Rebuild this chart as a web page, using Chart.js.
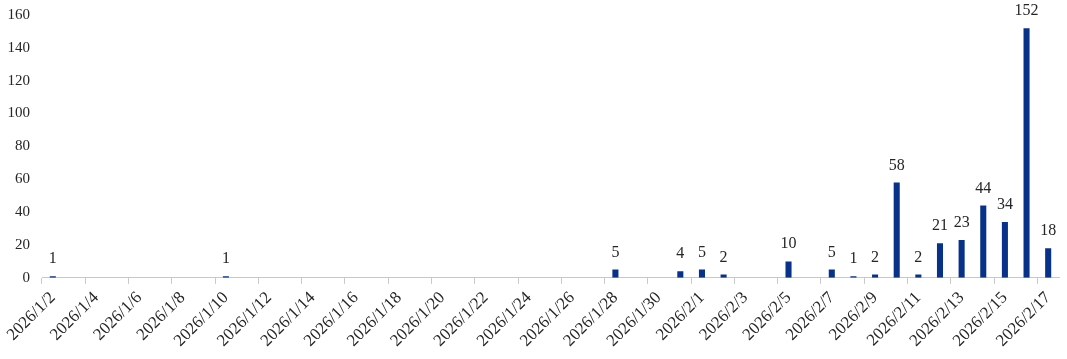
<!DOCTYPE html>
<html>
<head>
<meta charset="utf-8">
<script src="https://cdn.jsdelivr.net/npm/chart.js@4/dist/chart.umd.min.js"></script>
<style>
  html, body { margin: 0; padding: 0; background: #fff; }
  #wrap { width: 1067px; height: 359px; }
</style>
</head>
<body>
<div id="wrap"><canvas id="myBarChart"></canvas></div>
<script>
var dates = [
    '2026/1/2', '2026/1/3', '2026/1/4', '2026/1/5', '2026/1/6', '2026/1/7', '2026/1/8', '2026/1/9',
    '2026/1/10', '2026/1/11', '2026/1/12', '2026/1/13', '2026/1/14', '2026/1/15', '2026/1/16', '2026/1/17',
    '2026/1/18', '2026/1/19', '2026/1/20', '2026/1/21', '2026/1/22', '2026/1/23', '2026/1/24', '2026/1/25',
    '2026/1/26', '2026/1/27', '2026/1/28', '2026/1/29', '2026/1/30', '2026/1/31',
    '2026/2/1', '2026/2/2', '2026/2/3', '2026/2/4', '2026/2/5', '2026/2/6', '2026/2/7', '2026/2/8',
    '2026/2/9', '2026/2/10', '2026/2/11', '2026/2/12', '2026/2/13', '2026/2/14', '2026/2/15', '2026/2/16',
    '2026/2/17'
];
var counts = [
    1, 0, 0, 0, 0, 0, 0, 0,
    1, 0, 0, 0, 0, 0, 0, 0,
    0, 0, 0, 0, 0, 0, 0, 0,
    0, 0, 5, 0, 0, 4,
    5, 2, 0, 0, 10, 0, 5, 1,
    2, 58, 2, 21, 23, 44, 34, 152,
    18
];
var yTicks = [0, 20, 40, 60, 80, 100, 120, 140, 160];

var barColor = '#08318a';
var textColor = '#262626';
var serif = "'Liberation Serif', 'DejaVu Serif', serif";

// value labels over the bars (no datalabels plugin offline)
var valueLabels = {
    id: 'valueLabels',
    afterDatasetsDraw: function (chart) {
        var c = chart.ctx;
        var meta = chart.getDatasetMeta(0);
        c.save();
        c.font = '16px ' + serif;
        c.fillStyle = textColor;
        c.textAlign = 'center';
        c.textBaseline = 'alphabetic';
        meta.data.forEach(function (bar, i) {
            var v = counts[i];
            if (!v) return;
            c.fillText(String(v), bar.x, bar.y - 13);
        });
        c.restore();
    }
};

var ctx = document.getElementById('myBarChart').getContext('2d');
var myBarChart = new Chart(ctx, {
    type: 'bar',
    data: {
        labels: dates,
        datasets: [{
            data: counts,
            backgroundColor: barColor,
            barPercentage: 0.28,
            categoryPercentage: 1
        }]
    },
    options: {
        responsive: true,
        maintainAspectRatio: false,
        animation: false,
        layout: { padding: { left: 7, right: 8, top: 0, bottom: 4 } },
        plugins: {
            legend: { display: false },
            tooltip: { enabled: false }
        },
        scales: {
            x: {
                border: { display: true, color: '#c8c8c8', width: 1 },
                grid: {
                    offset: true,
                    drawOnChartArea: false,
                    tickLength: 6,
                    color: function (c) { return c.index % 2 === 0 ? '#c8c8c8' : 'rgba(0,0,0,0)'; }
                },
                ticks: {
                    autoSkip: false,
                    minRotation: 45,
                    maxRotation: 45,
                    padding: 4,
                    color: textColor,
                    font: { family: serif, size: 17 },
                    callback: function (val, i) { return i % 2 === 0 ? dates[i] : ''; }
                }
            },
            y: {
                min: yTicks[0],
                max: yTicks[yTicks.length - 1],
                border: { display: false },
                grid: { display: false, drawTicks: false },
                afterBuildTicks: function (axis) {
                    axis.ticks = yTicks.map(function (v) { return { value: v }; });
                },
                // chart.js counts tick padding twice, pin the axis size
                afterFit: function (axis) {
                    axis.width = 35;
                    axis.paddingTop = 15;
                },
                ticks: {
                    padding: 12,
                    color: textColor,
                    font: { family: serif, size: 15 }
                }
            }
        }
    },
    plugins: [valueLabels]
});
</script>
</body>
</html>
